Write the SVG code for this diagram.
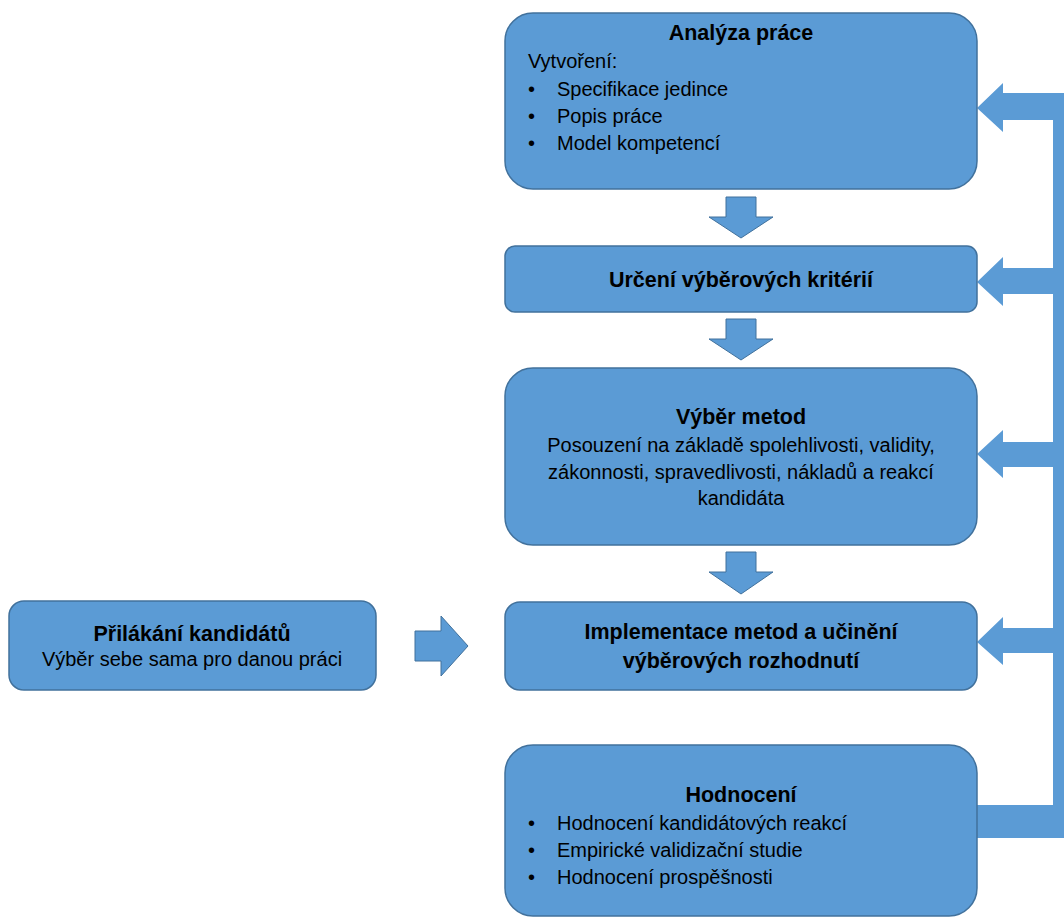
<svg xmlns="http://www.w3.org/2000/svg" width="1064" height="919" viewBox="0 0 1064 919">
<style>
.box{fill:#5B9BD5;stroke:#41719C;stroke-width:1.5}
.arr{fill:#5B9BD5;stroke:#41719C;stroke-width:1}
.fb{fill:#5B9BD5;stroke:none}
text{font-family:"Liberation Sans",Arial,sans-serif;fill:#000}
.t{font-size:21.5px;font-weight:bold;text-anchor:middle}
.b{font-size:20px}
.c{font-size:20px;text-anchor:middle}
</style>
<rect width="1064" height="919" fill="#fff"/>
<g id="connectors">
  <polygon class="arr" points="726,197 756,197 756,217 773,217 741,238 709,217 726,217"/>
  <polygon class="arr" points="726,319 756,319 756,339 773,339 741,360 709,339 726,339"/>
  <polygon class="arr" points="726,552 756,552 756,572 773,572 741,594 709,572 726,572"/>
  <polygon class="arr" points="415,631 441,631 441,616 468,646 441,676 441,661 415,661"/>
  <g id="feedback">
    <rect class="fb" x="1053" y="93" width="12" height="745"/>
    <rect class="fb" x="977" y="805" width="88" height="33"/>
    <polygon class="fb" points="977,108 1003,83 1003,93 1065,93 1065,120 1003,120 1003,132"/>
    <polygon class="fb" points="977,282 1003,257 1003,268 1055,268 1055,294 1003,294 1003,306"/>
    <polygon class="fb" points="977,454 1003,430 1003,442 1055,442 1055,467 1003,467 1003,478"/>
    <polygon class="fb" points="977,642 1003,617 1003,628 1055,628 1055,653 1003,653 1003,665"/>
  </g>
</g>
<g id="analyza">
  <rect class="box" x="505" y="13" width="472" height="176" rx="28"/>
  <text class="t" x="741" y="40">Analýza práce</text>
  <text class="b" x="528" y="68">Vytvoření:</text>
  <text class="b" x="528" y="96">•</text><text class="b" x="557" y="96">Specifikace jedince</text>
  <text class="b" x="528" y="123">•</text><text class="b" x="557" y="123">Popis práce</text>
  <text class="b" x="528" y="150">•</text><text class="b" x="557" y="150">Model kompetencí</text>
</g>
<g id="urceni">
  <rect class="box" x="505" y="246" width="472" height="66" rx="10"/>
  <text class="t" x="741" y="287">Určení výběrových kritérií</text>
</g>
<g id="vyber">
  <rect class="box" x="505" y="368" width="472" height="177" rx="28"/>
  <text class="t" x="741" y="424">Výběr metod</text>
  <text class="c" x="741" y="452">Posouzení na základě spolehlivosti, validity,</text>
  <text class="c" x="741" y="479">zákonnosti, spravedlivosti, nákladů a reakcí</text>
  <text class="c" x="741" y="505">kandidáta</text>
</g>
<g id="implementace">
  <rect class="box" x="505" y="602" width="472" height="88" rx="15"/>
  <text class="t" x="741" y="639">Implementace metod a učinění</text>
  <text class="t" x="741" y="668">výběrových rozhodnutí</text>
</g>
<g id="prilakani">
  <rect class="box" x="9" y="601" width="367" height="89" rx="15"/>
  <text class="t" x="192" y="641">Přilákání kandidátů</text>
  <text class="c" x="192" y="666">Výběr sebe sama pro danou práci</text>
</g>
<g id="hodnoceni">
  <rect class="box" x="505" y="745" width="472" height="171" rx="28"/>
  <text class="t" x="741" y="802">Hodnocení</text>
  <text class="b" x="528" y="830">•</text><text class="b" x="557" y="830">Hodnocení kandidátových reakcí</text>
  <text class="b" x="528" y="857">•</text><text class="b" x="557" y="857">Empirické validizační studie</text>
  <text class="b" x="528" y="884">•</text><text class="b" x="557" y="884">Hodnocení prospěšnosti</text>
</g>
</svg>
